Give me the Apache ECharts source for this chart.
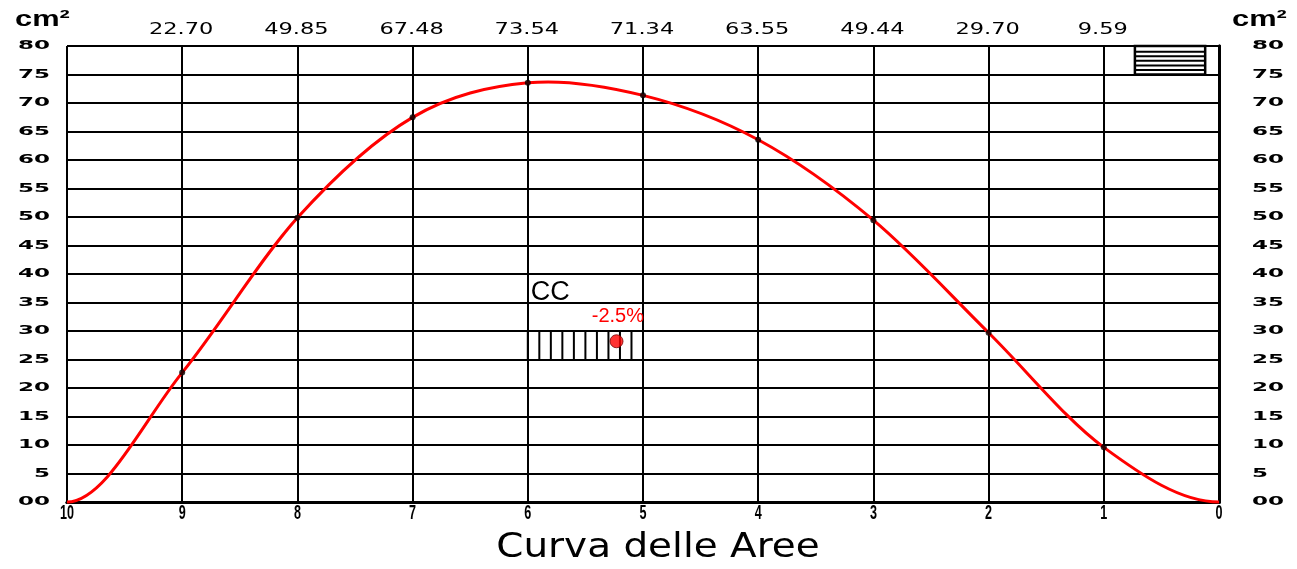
<!DOCTYPE html>
<html><head><meta charset="utf-8">
<script src="https://cdn.jsdelivr.net/npm/echarts@6/dist/echarts.min.js"></script>
<style>html,body{margin:0;padding:0;background:#fff}#c{width:1297px;height:569px}</style>
</head><body><div id="c"></div>
<script>
// Stations (x) and areas (cm²)
const stations = [10, 9, 8, 7, 6, 5, 4, 3, 2, 1, 0];
const areas = [0, 22.70, 49.85, 67.48, 73.54, 71.34, 63.55, 49.44, 29.70, 9.59, 0];
const topLabels = ['', '22.70', '49.85', '67.48', '73.54', '71.34', '63.55', '49.44', '29.70', '9.59', ''];
const bottomLabels = ['10', '9', '8', '7', '6', '5', '4', '3', '2', '1', '0'];
const yTicks = [0, 5, 10, 15, 20, 25, 30, 35, 40, 45, 50, 55, 60, 65, 70, 75, 80];
const yTickLabels = ['00', '5', '10', '15', '20', '25', '30', '35', '40', '45', '50', '55', '60', '65', '70', '75', '80'];
const unitLabel = 'cm²';
const titleText = 'Curva delle Aree';
// CC marker
const ccBox = [6, 5, 25, 30];      // x from, x to, y from, y to
const ccPoint = [5.23, 28.2];
const ccLabel = '-2.5%';
const ccText = 'CC';
// legend box at top right
const legendBox = [0.73, 0.12, 75, 80];
const legendLines = [79.0, 78.2, 77.4, 76.6, 75.8];

const curve = stations.map((s, i) => [s, areas[i]]);
const dots = curve.slice(1, -1);

const chart = echarts.init(document.getElementById('c'));
function yAxisDef(pos) {
  return {
    type: 'value', position: pos, min: 0, max: 80, interval: 5,
    axisLine: {show: true, lineStyle: {color: '#000', width: 3}},
    axisTick: {show: false}, axisLabel: {show: false},
    splitLine: {show: pos === 'left', lineStyle: {color: '#000', width: 2}}
  };
}
function curvePath(api) {
  const P = curve.map(p => api.coord(p));
  const n = P.length;
  const slope = P.map((p, i) => {
    if (i === 0 || i === n - 1) return 0;
    return (P[i + 1][1] - P[i - 1][1]) / (P[i + 1][0] - P[i - 1][0]);
  });
  let d = 'M' + P[0][0] + ' ' + P[0][1];
  for (let i = 0; i < n - 1; i++) {
    const dx = (P[i + 1][0] - P[i][0]) / 3;
    const c1x = P[i][0] + dx, c1y = P[i][1] + slope[i] * dx;
    const c2x = P[i + 1][0] - dx, c2y = P[i + 1][1] - slope[i + 1] * dx;
    d += ' C' + c1x + ' ' + c1y + ' ' + c2x + ' ' + c2y + ' ' + P[i + 1][0] + ' ' + P[i + 1][1];
  }
  return d;
}
const option = {
  animation: false,
  grid: {left: 67, right: 78, top: 46, bottom: 67},
  xAxis: [
    {type: 'value', position: 'bottom', min: 0, max: 10, interval: 1, inverse: true,
     axisLine: {show: true, lineStyle: {color: '#000', width: 3}},
     axisTick: {show: false}, axisLabel: {show: false},
     splitLine: {show: true, lineStyle: {color: '#000', width: 2}}},
    {type: 'value', position: 'top', min: 0, max: 10, interval: 1, inverse: true,
     axisLine: {show: true, lineStyle: {color: '#000', width: 3}},
     axisTick: {show: false}, splitLine: {show: false}, axisLabel: {show: false}}
  ],
  yAxis: [yAxisDef('left'), yAxisDef('right')],
  series: [
    // decorations: CC hatched box, legend box
    {type: 'custom', silent: true, z: 3, clip: false, data: [0],
     renderItem: (params, api) => {
       const children = [];
       const steps = Math.round((ccBox[0] - ccBox[1]) / 0.1);
       for (let k = 0; k <= steps; k++) {
         const xv = ccBox[0] - k * 0.1;
         const a = api.coord([xv, ccBox[2]]), b = api.coord([xv, ccBox[3]]);
         children.push({type: 'line', shape: {x1: a[0], y1: a[1], x2: b[0], y2: b[1]}, style: {stroke: '#000', lineWidth: 2}});
       }
       const l0 = api.coord([legendBox[0], legendBox[3]]), l1 = api.coord([legendBox[1], legendBox[2]]);
       children.push({type: 'rect', shape: {x: l0[0], y: l0[1], width: l1[0] - l0[0], height: l1[1] - l0[1]}, style: {fill: 'none', stroke: '#000', lineWidth: 2.5}});
       legendLines.forEach(yv => {
         const a = api.coord([legendBox[0], yv]), b = api.coord([legendBox[1], yv]);
         children.push({type: 'line', shape: {x1: a[0], y1: a[1], x2: b[0], y2: b[1]}, style: {stroke: '#000', lineWidth: 2}});
       });
       const t = api.coord([ccBox[0], 35]);
       children.push({type: 'text', x: t[0] + 3, y: t[1] + 4, style: {text: ccText, fontFamily: 'Liberation Sans', fontSize: 27, fill: '#000', align: 'left', verticalAlign: 'bottom'}});
       return {type: 'group', children};
     }},
    // texts: tick labels, units, title
    {type: 'custom', silent: true, z: 7, clip: false, data: [0],
     renderItem: (params, api) => {
       const children = [];
       yTicks.forEach((v, i) => {
         const pl = api.coord([10, v]), pr = api.coord([0, v]);
         children.push({type: 'text', x: pl[0] - 17, y: pl[1] + 0.5, scaleX: 2.0, scaleY: 1,
           style: {text: yTickLabels[i], fontFamily: 'DejaVu Sans', fontWeight: 'bold', fontSize: 11.5, fill: '#000', align: 'right', verticalAlign: 'middle'}});
         children.push({type: 'text', x: pr[0] + 33, y: pr[1] + 0.5, scaleX: 2.0, scaleY: 1,
           style: {text: yTickLabels[i], fontFamily: 'DejaVu Sans', fontWeight: 'bold', fontSize: 11.5, fill: '#000', align: 'left', verticalAlign: 'middle'}});
       });
       stations.forEach((s, i) => {
         const pb = api.coord([s, 0]), pt = api.coord([s, 80]);
         children.push({type: 'text', x: pb[0], y: pb[1] + 1, scaleX: 0.6, scaleY: 1,
           style: {text: bottomLabels[i], fontFamily: 'Liberation Sans', fontWeight: 'bold', fontSize: 21, fill: '#000', align: 'center', verticalAlign: 'top'}});
         if (topLabels[i]) children.push({type: 'text', x: pt[0] - 1, y: pt[1] - 16, scaleX: 1.5, scaleY: 1,
           style: {text: topLabels[i], fontFamily: 'DejaVu Sans', fontSize: 15, fill: '#000', align: 'center', verticalAlign: 'middle'}});
       });
       const c0 = api.coord([10, 80]), c1 = api.coord([0, 80]);
       children.push({type: 'text', x: 15, y: c0[1] - 15, scaleX: 1.4, scaleY: 1,
         style: {text: unitLabel, fontFamily: 'Liberation Sans', fontWeight: 'bold', fontSize: 22, fill: '#000', align: 'left', verticalAlign: 'bottom'}});
       children.push({type: 'text', x: c1[0] + 13, y: c0[1] - 15, scaleX: 1.4, scaleY: 1,
         style: {text: unitLabel, fontFamily: 'Liberation Sans', fontWeight: 'bold', fontSize: 22, fill: '#000', align: 'left', verticalAlign: 'bottom'}});
       const b0 = api.coord([5, 0]);
       children.push({type: 'text', x: b0[0] + 15, y: b0[1] + 63, scaleX: 1.18, scaleY: 1,
         style: {text: titleText, fontFamily: 'DejaVu Sans', fontSize: 33, fill: '#000', align: 'center', verticalAlign: 'bottom'}});
       const lp = api.coord([ccBox[1], ccPoint[1]]);
       children.push({type: 'text', x: lp[0] + 1, y: api.coord([0, 30])[1] - 5,
         style: {text: ccLabel, fontFamily: 'Liberation Sans', fontSize: 20, fill: '#ff0000', align: 'right', verticalAlign: 'bottom'}});
       return {type: 'group', children};
     }},
    // area curve
    {type: 'custom', silent: true, z: 4, clip: false, data: [0],
     renderItem: (params, api) => ({type: 'path', shape: {pathData: curvePath(api)},
       style: {fill: 'none', stroke: '#ff0000', lineWidth: 3}})},
    {type: 'scatter', data: dots, symbolSize: 6, z: 5, itemStyle: {color: '#000'}},
    {type: 'scatter', data: [ccPoint], symbolSize: 13, z: 6,
     itemStyle: {color: '#ff0000', borderColor: '#700', borderWidth: 1}}
  ]
};
chart.setOption(option);
</script></body></html>
